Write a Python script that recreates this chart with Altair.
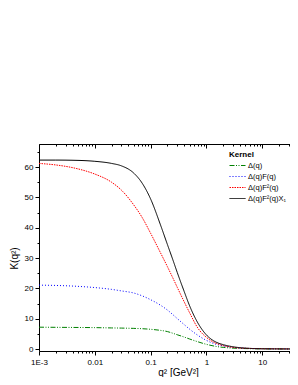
import altair as alt
import pandas as pd

# ---- data ----
q2 = [0.001, 0.002, 0.005, 0.01, 0.02, 0.03, 0.05, 0.07, 0.1, 0.15, 0.2, 0.25,
      0.3, 0.4, 0.5, 0.7, 1, 1.5, 2, 3, 5, 10, 20, 40]
k_delta = [7.25, 7.2, 7.15, 7.1, 7.0, 6.95, 6.85, 6.75, 6.55, 6.2, 5.8, 5.25,
           4.75, 4.0, 3.35, 2.45, 1.6, 0.9, 0.6, 0.35, 0.2, 0.1, 0.07, 0.04]
k_delta_f = [21.1, 21.0, 20.7, 20.3, 19.7, 19.2, 18.5, 17.6, 16.3, 14.5, 12.9, 11.4,
             10.1, 8.1, 6.6, 4.6, 2.9, 1.6, 1.1, 0.6, 0.3, 0.15, 0.1, 0.06]
k_delta_f2 = [61.2, 60.7, 59.4, 57.7, 55.0, 52.4, 47.5, 43.5, 38.2, 31.8, 27.2, 23.5,
              20.4, 15.6, 12.0, 7.0, 3.9, 1.9, 1.2, 0.6, 0.3, 0.15, 0.1, 0.06]
k_delta_f2x = [62.3, 62.3, 62.2, 61.9, 61.2, 60.4, 58.0, 54.8, 49.5, 41.0, 34.5, 29.5,
               25.3, 19.0, 14.3, 8.7, 4.7, 2.3, 1.5, 0.8, 0.35, 0.15, 0.1, 0.06]

series = ["Δ(q)", "Δ(q)F(q)", "Δ(q)F²(q)", "Δ(q)F²(q)X₁"]
colors = ["#008000", "#0000FF", "#FF0000", "#000000"]
dashes = [[5, 1.5, 1, 1.5, 1, 1.5], [1, 2], [1.5, 1], [1, 0]]

x_major = [0.001, 0.01, 0.1, 1, 10]
x_major_labels = ["1E-3", "0.01", "0.1", "1", "10"]
x_minor = [m * 10.0 ** e for e in range(-3, 2) for m in range(2, 10) if m * 10.0 ** e < 31]
y_major = [0, 10, 20, 30, 40, 50, 60]
y_minor = [5, 15, 25, 35, 45, 55, 65]

x_domain = [0.001, 31.5]
y_domain = [-0.6, 67.6]

rows = []
for name, vals in zip(series, [k_delta, k_delta_f, k_delta_f2, k_delta_f2x]):
    for q, k in zip(q2, vals):
        rows.append({"q2": q, "K": k, "series": name})
df = pd.DataFrame(rows)

FONT = "Liberation Sans"

label_expr = ""
for v, lab in zip(x_major, x_major_labels):
    label_expr += f"abs(datum.value - {v}) < {v} * 1e-6 ? '{lab}' : "
label_expr += "''"

xs = alt.Scale(type="log", domain=x_domain, nice=False)
ys = alt.Scale(domain=y_domain, nice=False, zero=False)

common_axis = dict(grid=False, tickColor="black", domainColor="black",
                   tickWidth=1, domainWidth=1, labelColor="black",
                   labelFont=FONT, titleFont=FONT, labelFlush=False)

legend = alt.Legend(
    title="Kernel", orient="none", legendX=190, legendY=7, padding=0,
    titleFont=FONT, titleFontSize=8, titleFontWeight="bold", titleColor="black",
    titlePadding=2, labelFont=FONT, labelFontSize=7.5, labelColor="black",
    symbolType="M-1,0H3", symbolSize=64, symbolStrokeWidth=1,
    rowPadding=3, labelOffset=10, labelLimit=80,
)

lines = alt.Chart(df).mark_line(strokeWidth=1, clip=True, interpolate="monotone").encode(
    x=alt.X("q2:Q", scale=xs, axis=alt.Axis(
        orient="bottom", values=x_major, labelExpr=label_expr, tickSize=4,
        labelPadding=3, labelFontSize=8, title="q² [GeV²]", titleFontSize=10,
        titleFontWeight="normal", titleColor="black", titleX=139, titleY=24,
        titleBaseline="alphabetic", titleAlign="center", **common_axis)),
    y=alt.Y("K:Q", scale=ys, axis=alt.Axis(
        orient="left", values=y_major, tickSize=4, labelPadding=2, labelFontSize=8,
        title="K(q²)", titleFontSize=10, titleFontWeight="normal", titleColor="black",
        titleX=-25, titleY=114, titleBaseline="middle", titleAlign="center",
        titleAngle=270, **common_axis)),
    color=alt.Color("series:N", scale=alt.Scale(domain=series, range=colors), legend=legend),
    strokeDash=alt.StrokeDash("series:N", scale=alt.Scale(domain=series, range=dashes), legend=legend),
)

base = alt.Chart(df).mark_point(opacity=0, size=1)

minor_bl = base.encode(
    x=alt.X("q2:Q", scale=xs, axis=alt.Axis(orient="bottom", values=x_minor, tickSize=2,
                                             labels=False, domain=False, title=None, **common_axis)),
    y=alt.Y("K:Q", scale=ys, axis=alt.Axis(orient="left", values=y_minor, tickSize=2,
                                            labels=False, domain=False, title=None, **common_axis)),
)

top_line = base.encode(
    x=alt.X("q2:Q", scale=xs, axis=alt.Axis(orient="top", ticks=False, labels=False,
                                             domain=True, title=None, **common_axis)),
    y=alt.Y("K:Q", scale=ys, axis=None),
)

top_major = base.encode(
    x=alt.X("q2:Q", scale=xs, axis=alt.Axis(orient="top", offset=-4, values=x_major, tickSize=4,
                                             labels=False, domain=False, title=None, **common_axis)),
    y=alt.Y("K:Q", scale=ys, axis=None),
)

top_minor = base.encode(
    x=alt.X("q2:Q", scale=xs, axis=alt.Axis(orient="top", offset=-2, values=x_minor, tickSize=2,
                                             labels=False, domain=False, title=None, **common_axis)),
    y=alt.Y("K:Q", scale=ys, axis=None),
)

chart = alt.layer(lines, minor_bl, top_line, top_major, top_minor).resolve_axis(
    x="independent", y="independent"
).properties(
    width=251, height=207,
    autosize=alt.AutoSizeParams(type="none"),
    padding={"left": 31, "top": 136, "right": 0, "bottom": 26},
).configure_view(stroke=None).configure(background="white")

chart.save("out.html", embed_options={"renderer": "svg", "actions": False})
